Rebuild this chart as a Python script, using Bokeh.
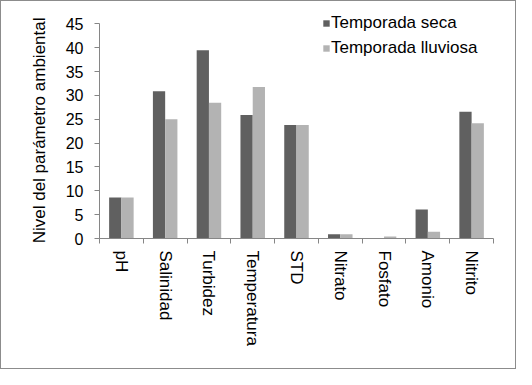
import numpy as np
from bokeh.plotting import figure
from bokeh.models import (ColumnDataSource, Range1d, FixedTicker, Legend, LegendItem, Title)
from bokeh.transform import dodge
from bokeh.embed import file_html
from bokeh.resources import INLINE

categories = ["pH", "Salinidad", "Turbidez", "Temperatura", "STD",
              "Nitrato", "Fosfato", "Amonio", "Nitrito"]
seca = [8.6, 30.9, 39.5, 25.9, 23.8, 0.9, 0.1, 6.1, 26.6]
lluviosa = [8.6, 25.0, 28.5, 31.8, 23.8, 0.9, 0.4, 1.4, 24.2]
series_names = ["Temporada seca", "Temporada lluviosa"]
y_ticks = [0, 5, 10, 15, 20, 25, 30, 35, 40, 45]
y_title = "Nivel del parámetro ambiental"

FONT = "Liberation Sans"
DARK = "#606060"
LIGHT = "#b3b3b3"
AXIS = "#868686"

centers = np.arange(len(categories)) + 0.5
src = ColumnDataSource(dict(x=centers, seca=seca, lluviosa=lluviosa))

# frame extends to the top of the canvas so the legend is not clipped;
# the y axis line itself is bounded to 0..45
p = figure(width=516, height=369, output_backend="svg", toolbar_location=None,
           x_range=Range1d(0, len(categories)), y_range=Range1d(0, 49.72),
           min_border_left=98, min_border_right=24, min_border_top=0,
           min_border_bottom=132)
p.outline_line_color = None
p.xgrid.visible = False
p.ygrid.visible = False
p.styles = {"border": "1px solid #8c8c8c"}

r1 = p.vbar(x=dodge("x", -0.14, range=p.x_range), top="seca", width=0.28,
            source=src, fill_color=DARK, line_color=None)
r2 = p.vbar(x=dodge("x", 0.14, range=p.x_range), top="lluviosa", width=0.28,
            source=src, fill_color=LIGHT, line_color=None)

# x axis: labels at centers, tick marks at category boundaries
xa = p.xaxis[0]
xa.ticker = FixedTicker(ticks=list(centers), minor_ticks=list(range(len(categories) + 1)))
xa.major_label_overrides = {float(c): cat for c, cat in zip(centers, categories)}
xa.major_label_orientation = "vertical"
xa.major_tick_line_color = None
xa.major_tick_in = 0
xa.major_tick_out = 5
xa.major_label_standoff = 7
xa.minor_tick_in = 0
xa.minor_tick_out = 5
xa.minor_tick_line_color = AXIS
xa.axis_line_color = AXIS
xa.major_label_text_font = FONT
xa.major_label_text_font_size = "17px"
xa.major_label_text_color = "#000000"

ya = p.yaxis[0]
ya.ticker = FixedTicker(ticks=y_ticks)
ya.bounds = (0, 45)
ya.major_tick_in = 0
ya.major_tick_out = 5
ya.minor_tick_line_color = None
ya.major_tick_line_color = AXIS
ya.axis_line_color = AXIS
ya.major_label_standoff = 11
ya.major_label_text_font = FONT
ya.major_label_text_font_size = "16px"
ya.major_label_text_color = "#000000"

# y title centred on the 0..45 axis (not on the taller frame)
ytitle = Title(text=y_title, align="right", offset=16, standoff=28,
               text_font=FONT, text_font_size="17px", text_font_style="normal",
               text_color="#000000")
p.add_layout(ytitle, "left")

legend = Legend(items=[LegendItem(label=series_names[0], renderers=[r1]),
                       LegendItem(label=series_names[1], renderers=[r2])],
                location=(223, 180), padding=0, margin=0, spacing=5,
                glyph_width=8, glyph_height=8, label_height=20, label_standoff=1,
                label_text_font=FONT, label_text_font_size="17px",
                label_text_color="#000000",
                background_fill_alpha=0, border_line_color=None)
p.add_layout(legend, "center")

open("out.html", "w").write(file_html(p, INLINE))
